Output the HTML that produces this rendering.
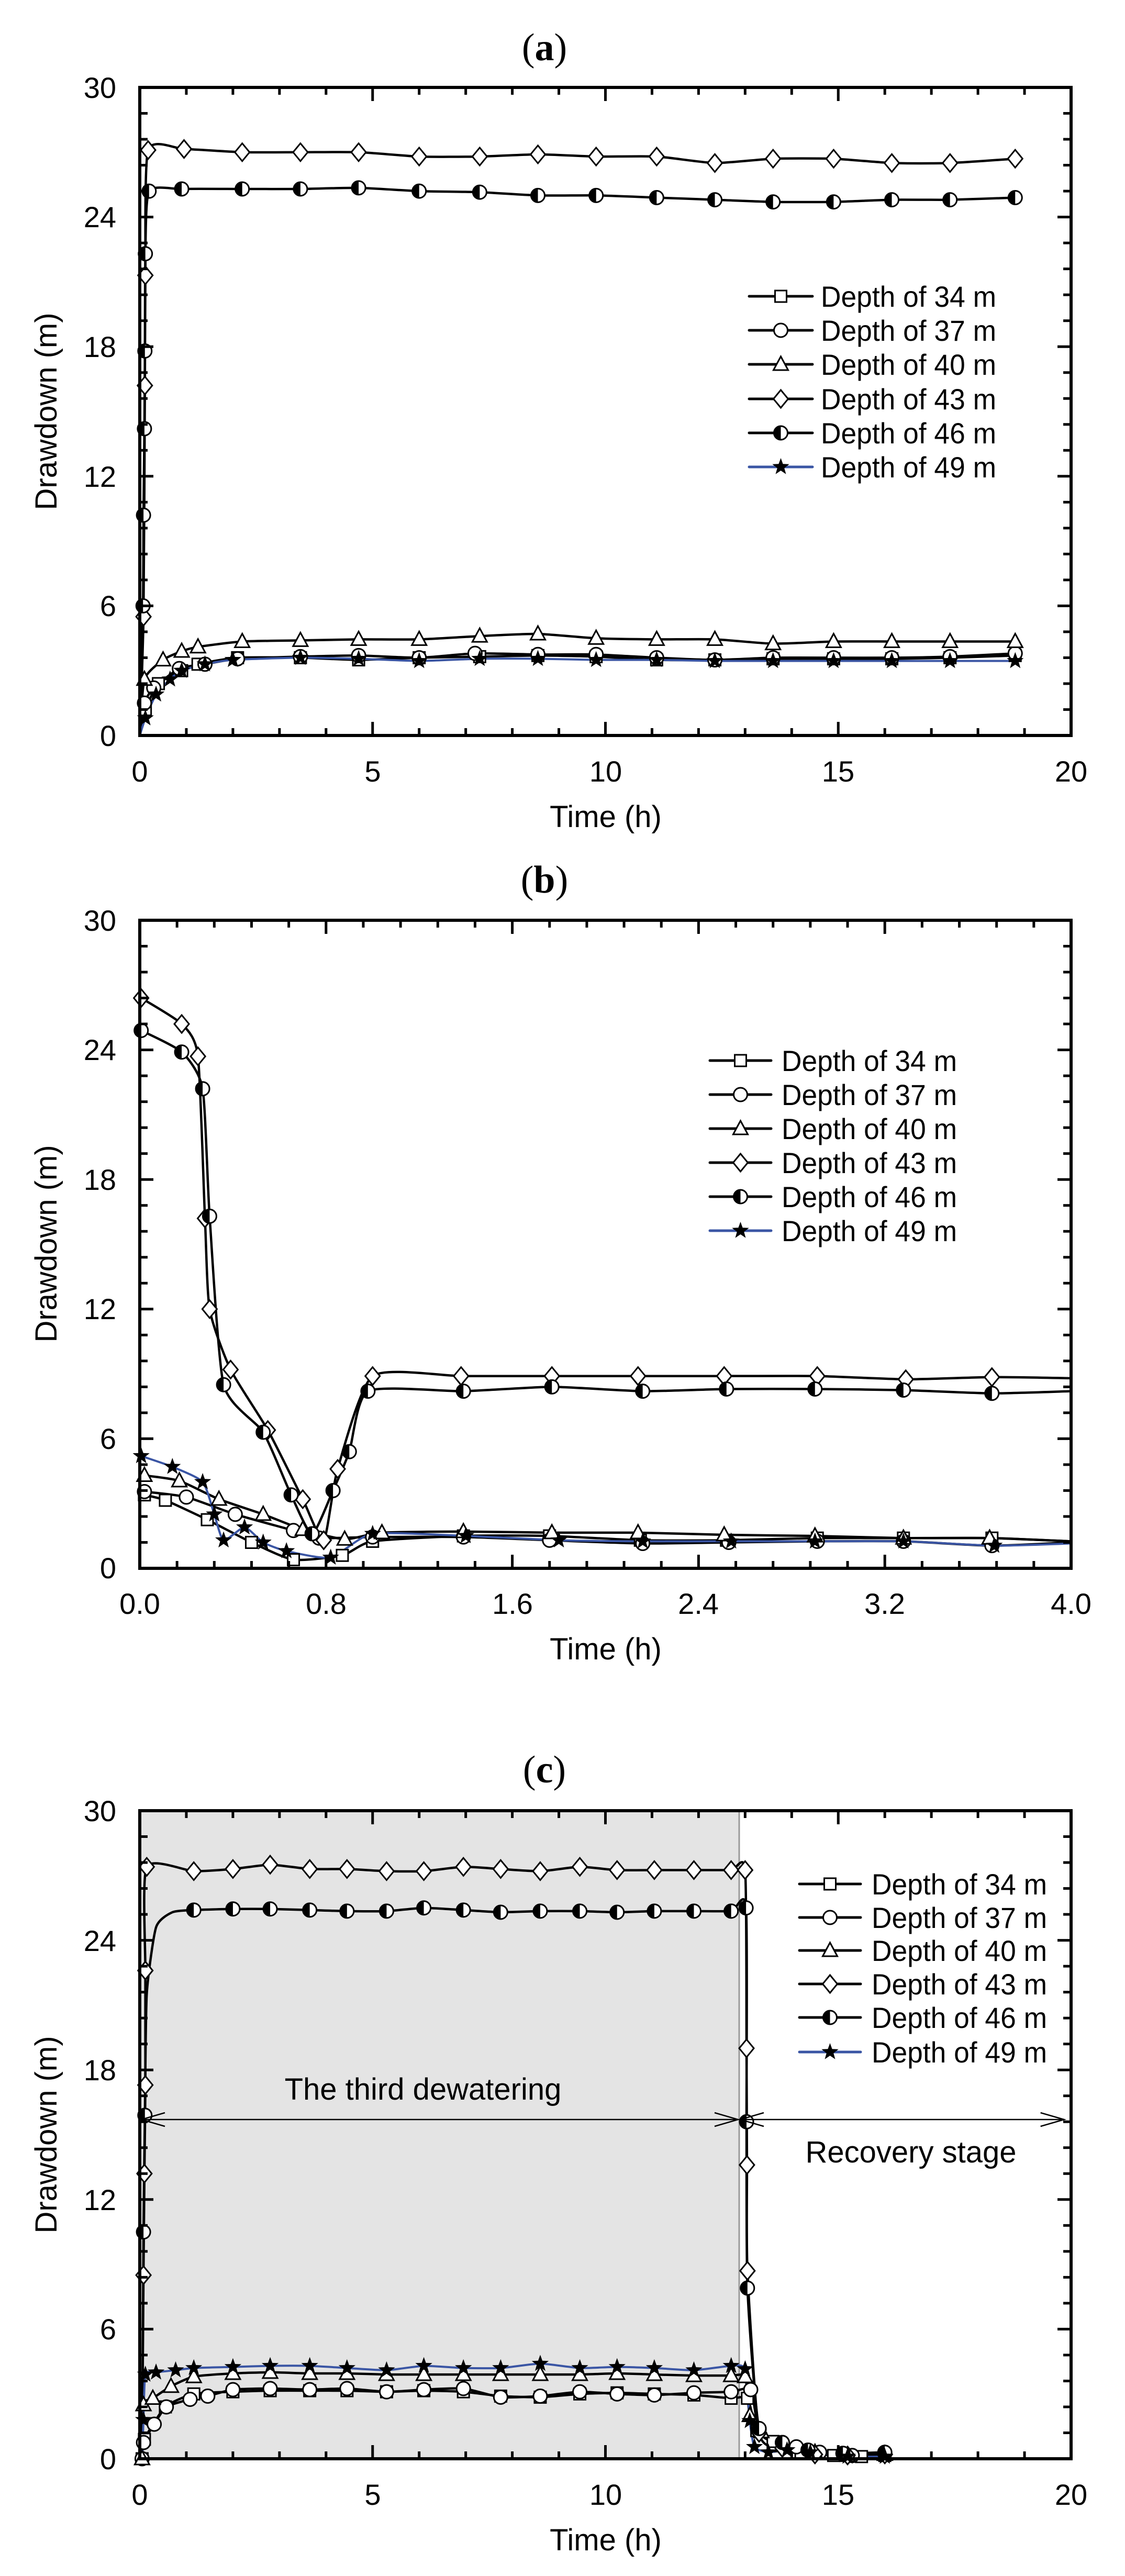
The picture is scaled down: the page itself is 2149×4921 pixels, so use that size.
<!DOCTYPE html>
<html><head><meta charset="utf-8">
<style>
html,body{margin:0;padding:0;background:#fff;}
svg{display:block;}
text{font-family:"Liberation Sans",Arial,sans-serif;fill:#000;}
.tk{font-size:56px;}
.lg{font-size:56px;}
.ax{font-size:58px;}
.ti{font-family:"Liberation Serif",serif;font-size:74px;}
</style></head>
<body>
<svg id="s" width="2149" height="4921" viewBox="0 0 2149 4921" xmlns="http://www.w3.org/2000/svg">
<rect width="2149" height="4921" fill="#fff"/>
<rect x="267" y="3459" width="1145" height="1238" fill="#e4e4e4"/>
<line x1="1412" y1="3459" x2="1412" y2="4697" stroke="#9a9a9a" stroke-width="3"/>
<g id="data"></g>
<g id="axes"></g>

<text class="ti" x="1040" y="115" text-anchor="middle">(<tspan font-weight="bold">a</tspan>)</text>
<text class="ti" x="1040" y="1705" text-anchor="middle">(<tspan font-weight="bold">b</tspan>)</text>
<text class="ti" x="1040" y="3405" text-anchor="middle">(<tspan font-weight="bold">c</tspan>)</text>

<g class="tk" text-anchor="end">
<text x="222" y="187">30</text><text x="222" y="434">24</text><text x="222" y="682">18</text>
<text x="222" y="930">12</text><text x="222" y="1177">6</text><text x="222" y="1425">0</text>
</g>
<g class="tk" text-anchor="middle">
<text x="267" y="1493">0</text><text x="712" y="1493">5</text><text x="1157" y="1493">10</text>
<text x="1601" y="1493">15</text><text x="2046" y="1493">20</text>
</g>
<text class="ax" x="1157" y="1580" text-anchor="middle">Time (h)</text>
<text class="ax" transform="translate(108,786) rotate(-90)" text-anchor="middle">Drawdown (m)</text>

<g class="tk" text-anchor="end">
<text x="222" y="1778">30</text><text x="222" y="2025">24</text><text x="222" y="2273">18</text>
<text x="222" y="2520">12</text><text x="222" y="2768">6</text><text x="222" y="3015">0</text>
</g>
<g class="tk" text-anchor="middle">
<text x="267" y="3083">0.0</text><text x="623" y="3083">0.8</text><text x="979" y="3083">1.6</text>
<text x="1334" y="3083">2.4</text><text x="1690" y="3083">3.2</text><text x="2046" y="3083">4.0</text>
</g>
<text class="ax" x="1157" y="3170" text-anchor="middle">Time (h)</text>
<text class="ax" transform="translate(108,2376) rotate(-90)" text-anchor="middle">Drawdown (m)</text>

<g class="tk" text-anchor="end">
<text x="222" y="3479">30</text><text x="222" y="3727">24</text><text x="222" y="3974">18</text>
<text x="222" y="4222">12</text><text x="222" y="4469">6</text><text x="222" y="4717">0</text>
</g>
<g class="tk" text-anchor="middle">
<text x="267" y="4785">0</text><text x="712" y="4785">5</text><text x="1157" y="4785">10</text>
<text x="1601" y="4785">15</text><text x="2046" y="4785">20</text>
</g>
<text class="ax" x="1157" y="4872" text-anchor="middle">Time (h)</text>
<text class="ax" transform="translate(108,4078) rotate(-90)" text-anchor="middle">Drawdown (m)</text>
<text class="ax" x="808" y="4011" text-anchor="middle">The third dewatering</text>
<text class="ax" x="1740" y="4131" text-anchor="middle">Recovery stage</text>

<g class="lg" lengthAdjust="spacingAndGlyphs">
<text x="1568" y="586" textLength="335" lengthAdjust="spacingAndGlyphs">Depth of 34 m</text><text x="1568" y="651" textLength="335" lengthAdjust="spacingAndGlyphs">Depth of 37 m</text>
<text x="1568" y="716" textLength="335" lengthAdjust="spacingAndGlyphs">Depth of 40 m</text><text x="1568" y="782" textLength="335" lengthAdjust="spacingAndGlyphs">Depth of 43 m</text>
<text x="1568" y="847" textLength="335" lengthAdjust="spacingAndGlyphs">Depth of 46 m</text><text x="1568" y="912" textLength="335" lengthAdjust="spacingAndGlyphs">Depth of 49 m</text>

<text x="1493" y="2046" textLength="335" lengthAdjust="spacingAndGlyphs">Depth of 34 m</text><text x="1493" y="2111" textLength="335" lengthAdjust="spacingAndGlyphs">Depth of 37 m</text>
<text x="1493" y="2176" textLength="335" lengthAdjust="spacingAndGlyphs">Depth of 40 m</text><text x="1493" y="2241" textLength="335" lengthAdjust="spacingAndGlyphs">Depth of 43 m</text>
<text x="1493" y="2306" textLength="335" lengthAdjust="spacingAndGlyphs">Depth of 46 m</text><text x="1493" y="2371" textLength="335" lengthAdjust="spacingAndGlyphs">Depth of 49 m</text>

<text x="1665" y="3619" textLength="335" lengthAdjust="spacingAndGlyphs">Depth of 34 m</text><text x="1665" y="3683" textLength="335" lengthAdjust="spacingAndGlyphs">Depth of 37 m</text>
<text x="1665" y="3746" textLength="335" lengthAdjust="spacingAndGlyphs">Depth of 40 m</text><text x="1665" y="3810" textLength="335" lengthAdjust="spacingAndGlyphs">Depth of 43 m</text>
<text x="1665" y="3874" textLength="335" lengthAdjust="spacingAndGlyphs">Depth of 46 m</text><text x="1665" y="3940" textLength="335" lengthAdjust="spacingAndGlyphs">Depth of 49 m</text>
</g>
</svg>
<script>
(function(){
var NS="http://www.w3.org/2000/svg";
var D=document.getElementById("data"), A=document.getElementById("axes");
function el(p,n,at){var e=document.createElementNS(NS,n);for(var k in at)e.setAttribute(k,at[k]);p.appendChild(e);return e;}
var L=267,W=1779,H=1238;
function smooth(pts){
 if(pts.length<2)return "";
 var d="M"+pts[0][0].toFixed(1)+","+pts[0][1].toFixed(1);
 for(var i=0;i<pts.length-1;i++){
  var p0=pts[Math.max(0,i-1)],p1=pts[i],p2=pts[i+1],p3=pts[Math.min(pts.length-1,i+2)];
  var t=0.1;
  var c1=[p1[0]+(p2[0]-p0[0])*t,p1[1]+(p2[1]-p0[1])*t];
  var c2=[p2[0]-(p3[0]-p1[0])*t,p2[1]-(p3[1]-p1[1])*t];
  d+=" C"+c1[0].toFixed(1)+","+c1[1].toFixed(1)+" "+c2[0].toFixed(1)+","+c2[1].toFixed(1)+" "+p2[0].toFixed(1)+","+p2[1].toFixed(1);
 }
 return d;
}
function marker(g,type,x,y){
 var sw=3;
 if(type==="sq")el(g,"rect",{x:x-11,y:y-11,width:22,height:22,fill:"#fff",stroke:"#000","stroke-width":sw});
 else if(type==="ci")el(g,"circle",{cx:x,cy:y,r:13,fill:"#fff",stroke:"#000","stroke-width":sw});
 else if(type==="tr")el(g,"polygon",{points:(x)+","+(y-15)+" "+(x+14)+","+(y+11)+" "+(x-14)+","+(y+11),fill:"#fff",stroke:"#000","stroke-width":sw});
 else if(type==="di")el(g,"polygon",{points:x+","+(y-17)+" "+(x+14)+","+y+" "+x+","+(y+17)+" "+(x-14)+","+y,fill:"#fff",stroke:"#000","stroke-width":sw});
 else if(type==="hc"){el(g,"circle",{cx:x,cy:y,r:13,fill:"#fff",stroke:"#000","stroke-width":sw});
  el(g,"path",{d:"M"+x+","+(y-13)+" A13,13 0 0,0 "+x+","+(y+13)+" Z",fill:"#000"});}
 else if(type==="st"){var s="";for(var i=0;i<10;i++){var r=i%2?7:17,a=-Math.PI/2+i*Math.PI/5;s+=(x+r*Math.cos(a)).toFixed(1)+","+(y+r*Math.sin(a)).toFixed(1)+" ";}
  el(g,"polygon",{points:s,fill:"#000"});}
}
function axes(T,xmax,nminor,majorEvery){
 var B=T+H;
 var g=el(A,"g",{stroke:"#000","stroke-width":5,fill:"none"});
 el(g,"rect",{x:L,y:T,width:W,height:H,"stroke-width":6});
 for(var i=1;i<25;i++){var y=B-i*H/25,len=(i%5===0)?26:15;
  el(g,"line",{x1:L,y1:y,x2:L+len,y2:y});el(g,"line",{x1:L+W,y1:y,x2:L+W-len,y2:y});}
 for(var j=1;j<nminor;j++){var x=L+j*W/nminor,ln=(j%majorEvery===0)?26:14;
  el(g,"line",{x1:x,y1:B,x2:x,y2:B-ln});el(g,"line",{x1:x,y1:T,x2:x,y2:T+ln});}
}
function plot(T,xmax,series,clipId){
 var B=T+H;
 var cp=el(D,"clipPath",{id:clipId});el(cp,"rect",{x:L,y:T,width:W,height:H});
 var g=el(D,"g",{"clip-path":"url(#"+clipId+")"});
 var mg=el(D,"g",{});
 series.forEach(function(s){
  var pts=s.d.map(function(p){return [L+p[0]/xmax*W,B-p[1]/30*H];});
  el(g,"path",{d:smooth(pts),fill:"none",stroke:s.blue?"#3a55a4":"#000","stroke-width":s.blue?4:4.5,"stroke-linejoin":"round"});
 });
 series.forEach(function(s){
  s.d.forEach(function(p,i){ if(s.skip&&s.skip.indexOf(i)>=0)return; var x=L+p[0]/xmax*W,y=B-p[1]/30*H; if(x<=L+W+2)marker(mg,s.m,x,y);});
 });
}
function legend(x1,x2,ys){
 var types=["sq","ci","tr","di","hc","st"];
 var g=el(A,"g",{});
 ys.forEach(function(y,i){
  el(g,"line",{x1:x1,y1:y,x2:x2,y2:y,stroke:i===5?"#3a55a4":"#000","stroke-width":5,"stroke-linecap":"round"});
  marker(g,types[i],(x1+x2)/2,y);
 });
}
var big=[1.15,2.2,3.45,4.7,6,7.3,8.55,9.8,11.1,12.35,13.6,14.9,16.15,17.4,18.8];
function mk(ts,vals){return ts.map(function(t,i){return [t,vals[i]];});}
var a43=[[0,0],[0.08,5.5],[0.11,16.2],[0.12,21.3],[0.18,27.1],[0.95,27.15]].concat(mk(big.slice(1),[27.0,27.0,27.0,26.8,26.8,26.9,26.8,26.8,26.5,26.7,26.7,26.5,26.5,26.7]));
var a46=[[0,0],[0.07,6],[0.08,10.2],[0.1,14.2],[0.11,17.8],[0.12,22.3],[0.2,25.2],[0.9,25.3]].concat(mk(big.slice(1),[25.3,25.3,25.35,25.2,25.15,25.0,25.0,24.9,24.8,24.7,24.7,24.8,24.8,24.9]));
var a40=[[0,0],[0.1,2.6],[0.5,3.5],[0.9,3.9],[1.25,4.1],[2.2,4.35],[3.45,4.4],[4.7,4.45],[6,4.45],[7.3,4.6],[8.55,4.7],[9.8,4.5],[11.1,4.45],[12.35,4.45],[13.6,4.25],[14.9,4.35],[16.15,4.35],[17.4,4.35],[18.8,4.35]];
var a37=[[0,0],[0.1,1.5],[0.3,2.2],[0.85,3.1],[1.4,3.3],[2.1,3.55],[3.45,3.65],[4.7,3.7],[6,3.6],[7.2,3.8],[8.55,3.75],[9.8,3.75],[11.1,3.6],[12.35,3.5],[13.6,3.6],[14.9,3.6],[16.15,3.6],[17.4,3.65],[18.8,3.8]];
var a34=[[0,0],[0.12,1.2],[0.4,2.4],[0.9,3.0],[1.25,3.3],[2.1,3.6],[3.45,3.6],[4.7,3.5],[6,3.6],[7.3,3.65],[8.55,3.7],[9.8,3.65],[11.1,3.5],[12.35,3.5],[13.6,3.55],[14.9,3.55],[16.15,3.55],[17.4,3.6],[18.8,3.7]];
var a49=[[0,0],[0.12,0.8],[0.35,1.9],[0.65,2.6],[0.9,3.0],[1.4,3.3],[2.0,3.5],[3.45,3.6],[4.7,3.55],[6,3.45],[7.3,3.55],[8.55,3.55],[9.8,3.5],[11.1,3.5],[12.35,3.45],[13.6,3.45],[14.9,3.45],[16.15,3.45],[17.4,3.45],[18.8,3.45]];
plot(167,20,[
 {m:"sq",d:a34,skip:[0]},{m:"ci",d:a37,skip:[0]},{m:"tr",d:a40,skip:[0]},
 {m:"di",d:a43,skip:[0]},{m:"hc",d:a46,skip:[0]},{m:"st",d:a49,blue:true,skip:[0]}],"ca");
axes(167,20,20,5);
legend(1431,1552,[566,631,696,762,827,892]);
var b43=[[0.006,26.4],[0.18,25.2],[0.25,23.7],[0.28,16.2],[0.3,12.0],[0.39,9.2],[0.55,6.4],[0.7,3.2],[0.79,1.3],[0.85,4.6],[1.0,8.9],[1.38,8.9],[1.77,8.9],[2.14,8.9],[2.51,8.9],[2.91,8.9],[3.29,8.75],[3.66,8.85],[4.0,8.8]];
var b46=[[0.006,24.9],[0.18,23.9],[0.27,22.2],[0.3,16.3],[0.36,8.5],[0.53,6.3],[0.65,3.4],[0.74,1.6],[0.83,3.6],[0.9,5.4],[0.98,8.2],[1.39,8.2],[1.77,8.4],[2.16,8.2],[2.52,8.3],[2.9,8.3],[3.28,8.25],[3.66,8.1],[4.0,8.2]];
var b49=[[0.006,5.2],[0.14,4.7],[0.27,4.0],[0.32,2.5],[0.36,1.3],[0.45,1.9],[0.53,1.2],[0.63,0.8],[0.82,0.5],[1.0,1.6],[1.4,1.5],[1.8,1.3],[2.16,1.25],[2.54,1.25],[2.9,1.25],[3.28,1.25],[3.67,1.05],[4.0,1.15]];
var b40=[[0.02,4.3],[0.17,4.05],[0.34,3.2],[0.53,2.5],[0.7,1.8],[0.88,1.35],[1.04,1.65],[1.39,1.7],[1.77,1.65],[2.14,1.65],[2.51,1.55],[2.9,1.5],[3.28,1.4],[3.65,1.4],[4.0,1.25]];
var b37=[[0.02,3.55],[0.2,3.3],[0.41,2.5],[0.66,1.75],[0.77,1.4],[1.0,1.45],[1.39,1.45],[1.76,1.3],[2.16,1.15],[2.53,1.2],[2.91,1.25],[3.28,1.25],[3.66,1.05],[4.0,1.2]];
var b34=[[0.02,3.4],[0.11,3.15],[0.29,2.25],[0.48,1.2],[0.66,0.4],[0.87,0.6],[1.0,1.25],[1.39,1.5],[1.76,1.5],[2.15,1.3],[2.52,1.3],[2.91,1.4],[3.28,1.4],[3.66,1.4],[4.0,1.25]];
plot(1758,4,[
 {m:"sq",d:b34,skip:[14]},{m:"ci",d:b37,skip:[13]},{m:"tr",d:b40,skip:[14]},
 {m:"di",d:b43,skip:[18]},{m:"hc",d:b46,skip:[18]},{m:"st",d:b49,blue:true,skip:[17]}],"cb");
axes(1758,4,25,5);
legend(1356,1473,[2026,2091,2156,2221,2286,2351]);
var ct=[1.16,2.0,2.8,3.65,4.45,5.3,6.1,6.95,7.75,8.6,9.45,10.25,11.05,11.9,12.7];
var c43=[[0.05,0],[0.08,8.5],[0.1,13.2],[0.12,17.3],[0.12,22.6],[0.15,27.4]].concat(mk(ct,[27.2,27.3,27.5,27.3,27.3,27.2,27.2,27.4,27.3,27.2,27.4,27.25,27.25,27.25,27.25])).concat([[13.0,27.25],[13.03,19],[13.04,13.6],[13.05,8.7],[13.3,1.2],[13.8,0.5],[14.5,0.2],[15.2,0.15],[16,0.2]]);
var c46=[[0.05,0],[0.08,10.5],[0.11,15.9],[0.15,21.5],[0.35,24.6],[0.7,25.3]].concat(mk(ct,[25.4,25.45,25.45,25.4,25.35,25.35,25.5,25.4,25.3,25.35,25.35,25.3,25.35,25.35,25.35])).concat([[13.02,25.5],[13.03,15.6],[13.05,7.9],[13.3,1.4],[13.8,0.75],[14.35,0.4],[15.1,0.25],[16,0.3]]);
var c40=[[0.05,0],[0.08,2.5],[0.28,2.8],[0.67,3.35],[1.16,3.8]].concat(mk(ct.slice(1),[3.95,4.0,3.95,3.95,3.9,3.9,3.9,3.9,3.9,3.9,3.95,3.9,3.85,3.85])).concat([[13.0,3.8],[13.1,2.0],[13.35,1.25],[13.8,0.6],[14.5,0.3],[15.2,0.15],[16,0.2]]);
var c49=[[0.05,0],[0.08,1.8],[0.12,3.9],[0.35,4.0],[0.77,4.1],[1.16,4.2]].concat(mk(ct.slice(1),[4.25,4.3,4.3,4.2,4.1,4.3,4.2,4.2,4.4,4.2,4.25,4.2,4.1,4.3])).concat([[13.0,4.15],[13.1,1.75],[13.2,0.55],[13.5,0.3],[13.9,0.4],[14.4,0.3],[15.2,0.1],[16,0.1]]);
var c37=[[0.05,0],[0.08,0.75],[0.31,1.6],[0.57,2.4],[1.08,2.75],[1.46,2.9]].concat(mk(ct.slice(1),[3.2,3.25,3.2,3.25,3.1,3.2,3.25,2.85,2.9,3.1,3.0,2.95,3.05,3.1])).concat([[13.12,3.2],[13.3,1.35],[13.8,0.75],[14.1,0.55],[14.6,0.3],[15.3,0.15],[16,0.25]]);
var c34=[[0.05,0],[0.1,0.9],[0.55,2.4],[1.16,3.0]].concat(mk(ct.slice(1),[3.1,3.15,3.15,3.15,3.1,3.15,3.1,2.9,2.85,3.0,3.05,3.0,2.95,2.8])).concat([[13.05,2.8],[13.25,1.3],[13.6,0.8],[14.2,0.3],[14.9,0.15],[15.5,0.1],[16,0.15]]);
plot(3459,20,[
 {m:"sq",d:c34},{m:"ci",d:c37},{m:"tr",d:c40},
 {m:"di",d:c43,skip:[0]},{m:"hc",d:c46,skip:[0,3,4,5]},{m:"st",d:c49,blue:true,skip:[0]}],"cc");
axes(3459,20,20,5);
legend(1527,1644,[3599,3663,3726,3790,3854,3920]);
var ag=el(A,"g",{stroke:"#000","stroke-width":2.5,fill:"none"});
var ay=4049,x0=L+3,xm=1412,xr=L+19.85/20*W;
el(ag,"line",{x1:x0,y1:ay,x2:xm-2,y2:ay});
el(ag,"line",{x1:xm+2,y1:ay,x2:xr,y2:ay});
function head(x,y,dir){el(ag,"polyline",{points:(x+dir*45)+","+(y-13)+" "+x+","+y+" "+(x+dir*45)+","+(y+13)});}
head(x0,ay,1);head(xm-2,ay,-1);head(xm+2,ay,1);head(xr,ay,-1);
})();
</script>
</body></html>
